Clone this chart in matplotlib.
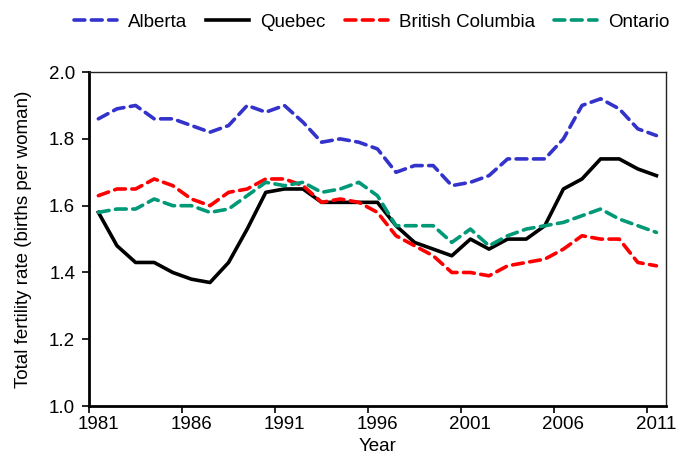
import matplotlib
matplotlib.use("Agg")
import matplotlib.pyplot as plt

plt.rcParams["font.family"] = ["Liberation Sans", "DejaVu Sans"]

years = list(range(1981, 2012))

alberta = [1.86, 1.89, 1.90, 1.86, 1.86, 1.84, 1.82, 1.84, 1.90, 1.88,
           1.90, 1.85, 1.79, 1.80, 1.79, 1.77, 1.70, 1.72, 1.72, 1.66,
           1.67, 1.69, 1.74, 1.74, 1.74, 1.80, 1.90, 1.92, 1.89, 1.83,
           1.81]
quebec = [1.58, 1.48, 1.43, 1.43, 1.40, 1.38, 1.37, 1.43, 1.53, 1.64,
          1.65, 1.65, 1.61, 1.61, 1.61, 1.61, 1.54, 1.49, 1.47, 1.45,
          1.50, 1.47, 1.50, 1.50, 1.54, 1.65, 1.68, 1.74, 1.74, 1.71,
          1.69]
british_columbia = [1.63, 1.65, 1.65, 1.68, 1.66, 1.62, 1.60, 1.64, 1.65, 1.68,
                    1.68, 1.66, 1.61, 1.62, 1.61, 1.58, 1.51, 1.48, 1.45, 1.40,
                    1.40, 1.39, 1.42, 1.43, 1.44, 1.47, 1.51, 1.50, 1.50, 1.43,
                    1.42]
ontario = [1.58, 1.59, 1.59, 1.62, 1.60, 1.60, 1.58, 1.59, 1.63, 1.67,
           1.66, 1.67, 1.64, 1.65, 1.67, 1.63, 1.54, 1.54, 1.54, 1.49,
           1.53, 1.48, 1.51, 1.53, 1.54, 1.55, 1.57, 1.59, 1.56, 1.54,
           1.52]

label_years = [1981, 1986, 1991, 1996, 2001, 2006, 2011]
y_ticks = [1.0, 1.2, 1.4, 1.6, 1.8, 2.0]

FS = 13.5
LFS = 13.5

fig = plt.figure(figsize=(6.8, 4.62), dpi=100)
ax = fig.add_axes([0.131, 0.121, 0.848, 0.723])

lw = 2.6
ax.plot(years, alberta, color="#3333cc", lw=lw, dashes=(3.0, 1.8),
        dash_capstyle="round", label="Alberta")
ax.plot(years, quebec, color="black", lw=lw, label="Quebec")
ax.plot(years, british_columbia, color="#ff0000", lw=lw, dashes=(3.0, 1.8),
        dash_capstyle="round", label="British Columbia")
ax.plot(years, ontario, color="#009977", lw=lw, dashes=(3.0, 1.8),
        dash_capstyle="round", label="Ontario")

ax.set_xlim(1980.5, 2011.5)
ax.set_ylim(1.0, 2.0)
ax.set_yticks(y_ticks)
ax.set_yticklabels([f"{v:.1f}" for v in y_ticks], fontsize=FS)

# ticks sit on category edges, labels in the category centre
ax.set_xticks([y - 0.5 for y in label_years])
ax.set_xticklabels([])
ax.set_xticks(label_years, minor=True)
ax.set_xticklabels([str(y) for y in label_years], minor=True, fontsize=FS)
ax.tick_params(axis="x", which="minor", length=0, pad=7)
ax.tick_params(axis="both", which="major", direction="out", length=5,
               width=1.2, color="black")
ax.tick_params(axis="y", pad=5)

for side in ["left", "bottom"]:
    ax.spines[side].set_linewidth(2)
for side in ["top", "right"]:
    ax.spines[side].set_linewidth(1)
    ax.spines[side].set_color("#222222")

ax.set_xlabel("Year", fontsize=LFS, labelpad=4)
ax.set_ylabel("Total fertility rate (births per woman)", fontsize=LFS, labelpad=12)

ax.legend(loc="center", bbox_to_anchor=(0.49, 1.15), ncol=4,
          frameon=False, fontsize=LFS, handlelength=2.3,
          columnspacing=1.0, handletextpad=0.6, borderaxespad=0)

fig.savefig("out.png", dpi=100)
plt.close(fig)
